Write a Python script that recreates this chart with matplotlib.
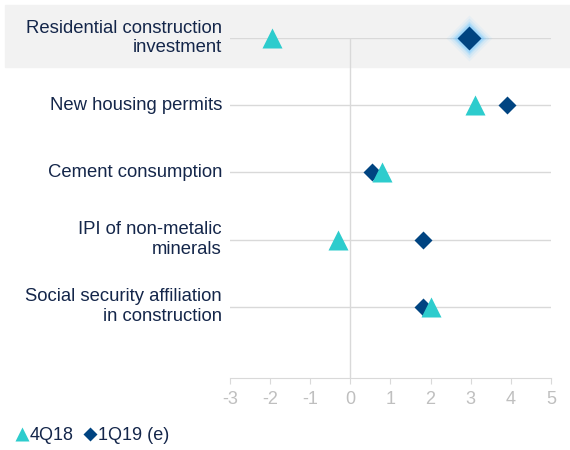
import matplotlib.pyplot as plt
from matplotlib.patches import Rectangle
from matplotlib.lines import Line2D

plt.rcParams['font.family'] = ['Liberation Sans', 'DejaVu Sans']

categories = ['Residential construction\ninvestment', 'New housing permits',
              'Cement consumption', 'IPI of non-metalic\nminerals',
              'Social security affiliation\nin construction']
q4_18 = [-1.95, 3.1, 0.8, -0.3, 2.0]
q1_19 = [2.95, 3.9, 0.55, 1.8, 1.8]
xticks = [-3, -2, -1, 0, 1, 2, 3, 4, 5]

TEAL = '#2dcccd'
NAVY = '#004481'
TEXT = '#14264a'
GRID = '#d9d9d9'

fig = plt.figure(figsize=(5.7, 4.5), dpi=100)
fig.patches.append(Rectangle((5 / 570, 1 - 67 / 450), 565 / 570, 62 / 450,
                             transform=fig.transFigure, color='#f2f2f2', zorder=-1))

ax = fig.add_axes([230 / 570, 1 - 378 / 450, 321 / 570, 340 / 450])
ax.set_zorder(1)
ax.set_facecolor('none')
rows = list(range(len(categories)))
ax.set_xlim(-3, 5)
ax.set_ylim(5.06, 0)

for r in rows:
    ax.axhline(r, color=GRID, lw=1, zorder=1)
ax.axvline(0, color=GRID, lw=1, zorder=1)

# glow around the highlighted diamond
for s, a in [(23, 0.08), (20, 0.14), (17.5, 0.22), (15, 0.35)]:
    ax.plot(q1_19[0], rows[0], 'D', ms=s, color='#6cc4ff', alpha=a, mec='none',
            zorder=2, clip_on=False)
ax.plot(q1_19[0], rows[0], 'D', ms=12.5, color=NAVY, mec='none', zorder=3, clip_on=False)
ax.plot(q1_19[1:], rows[1:], 'D', ms=9.5, color=NAVY, mec='none', ls='none',
        zorder=3, clip_on=False)
ax.plot(q4_18, rows, '^', ms=14, color=TEAL, mec='none', ls='none',
        zorder=4, clip_on=False)

for side in ['top', 'right', 'left']:
    ax.spines[side].set_visible(False)
ax.spines['bottom'].set_color(GRID)
ax.set_xticks(xticks)
ax.set_xticklabels([str(t) for t in xticks])
ax.tick_params(axis='x', colors=GRID, labelcolor='#bfbfbf', labelsize=13,
               length=4, pad=5)
ax.set_yticks([])

for r, c in zip(rows, categories):
    ax.text(-3.2, r, c, ha='right', va='center', color=TEXT, fontsize=13.3,
            linespacing=1.2)

handles = [Line2D([], [], marker='^', color=TEAL, ls='none', ms=10, mec='none'),
           Line2D([], [], marker='D', color=NAVY, ls='none', ms=7, mec='none')]
fig.legend(handles, ['4Q18', '1Q19 (e)'], loc='center left',
           bbox_to_anchor=(0.0, 1 - 436 / 450), ncol=2, frameon=False,
           handlelength=0.6, handletextpad=0.15, columnspacing=0.6,
           labelcolor=TEXT, fontsize=13)

fig.savefig('out.png', dpi=100)
